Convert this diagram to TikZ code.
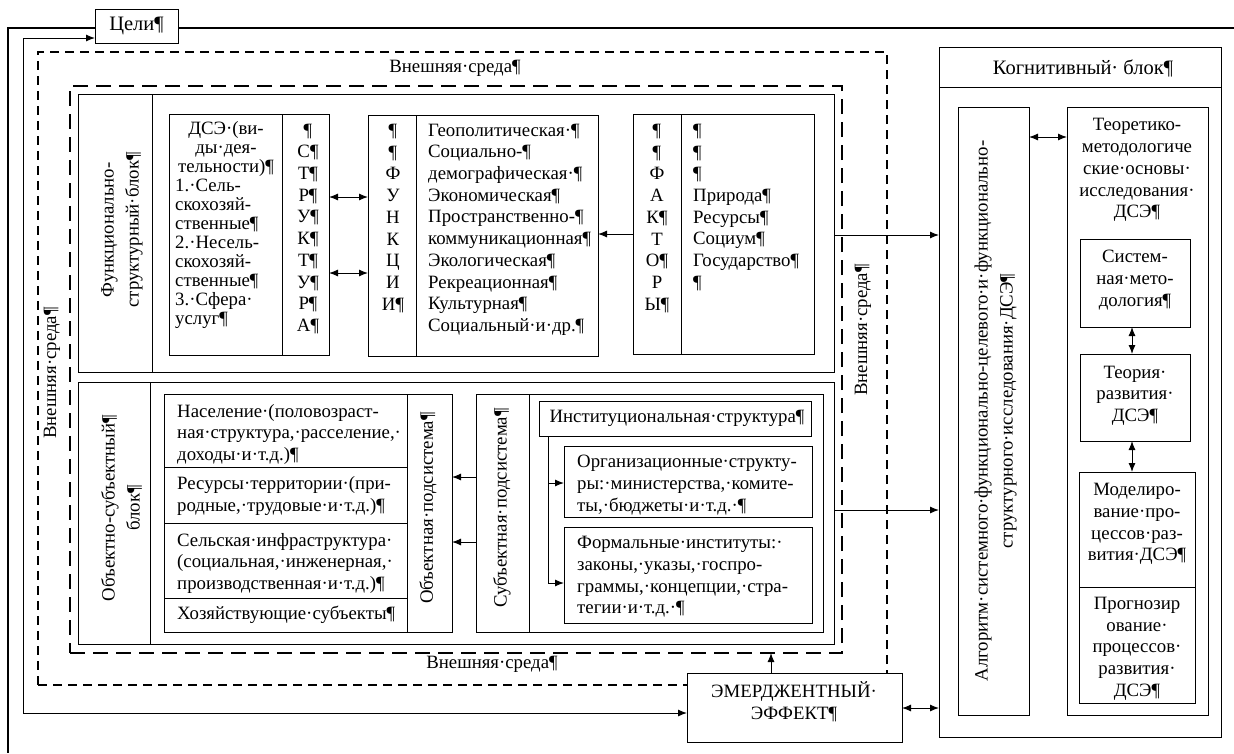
\documentclass[tikz,border=0pt]{standalone}
\usepackage{fontspec}
\setmainfont{Liberation Serif}
\usetikzlibrary{arrows.meta}
\newcommand\fsA{\rmfamily\fontsize{18.8}{21.7}\selectfont}
\newcommand\fsB{\rmfamily\fontsize{18.8}{19}\selectfont}
\newcommand\fsC{\rmfamily\fontsize{18.8}{25}\selectfont}
\newcommand\fsD{\rmfamily\fontsize{20.5}{24}\selectfont}
\newcommand\bx[6][]{\node[box,#1,minimum width={(#4-#2)*1pt},minimum height={(#5-#3)*1pt}] (#6) at (#2,#3) {};}
\begin{document}
\begin{tikzpicture}[x=1pt,y=-1pt,
  box/.style={draw,line width=1pt,inner sep=0pt,outer sep=0pt,anchor=north west},
  txt/.style={inner sep=0pt,font=\fsA},
  tl/.style={txt,align=left,anchor=west},
  tc/.style={txt,align=center},
  tr90/.style={inner sep=0pt,font=\fsC,align=center,rotate=90},
  arr/.style={line width=1pt,-{Latex[length=9pt,width=7pt]}},
  darr/.style={line width=1pt,{Latex[length=9pt,width=7pt]}-{Latex[length=9pt,width=7pt]}},
  dashO/.style={line width=2pt,dash pattern=on 9pt off 6pt},
  dashI/.style={line width=2.3pt,dash pattern=on 15pt off 8pt},
  fb/.style={line width=2.5pt}]
\useasboundingbox (0,0) rectangle (1234,753);
% environment
\bx[dashO]{38}{52}{887}{685}{envO}
\bx[dashI]{70}{86}{842}{653}{envI}
\node[tc] (envTop) at (455,68) {Внешняя·среда¶};
\node[tc] (envBot) at (492,664) {Внешняя·среда¶};
\node[tc,rotate=90] (envL) at (52,373) {Внешняя·среда¶};
\node[tc,rotate=90] (envR) at (863,330) {Внешняя·среда¶};
% goals
\node[box,font=\fsD,minimum width=83pt,minimum height=34pt] (goals) at (95,9) {Цели¶};
% functional-structural block
\bx{78}{94}{834}{372}{fsb}
\bx{78}{94}{152}{372}{fsbl}
\node[tr90] (fsbt) at (121,230) {\strut Функционально-\\структурный·блок¶\strut};
\bx{169}{114}{282}{355}{dse}
\bx{282}{114}{329}{355}{str}
\node[txt,font=\fsB,align=center] (dset1) at (226,150) {\strut ДСЭ·(ви-\\ды·дея-\\тельности)¶\strut};
\node[txt,font=\fsB,align=left,anchor=west] (dset2) at (175,254.5) {\strut 1.·Сель-\\скохозяй-\\ственные¶\\2.·Несель-\\скохозяй-\\ственные¶\\3.·Сфера·\\услуг¶\strut};
\node[tc] (strt) at (308,229.5) {\strut ¶\\С¶\\Т¶\\Р¶\\У¶\\К¶\\Т¶\\У¶\\Р¶\\А¶\strut};
\bx{368}{115}{416}{356}{fnl}
\bx{416}{115}{598}{356}{fnr}
\node[tc] (fnlt) at (393,219) {\strut ¶\\¶\\Ф\\У\\Н\\К\\Ц\\И\\И¶\strut};
\node[tl] (fnrt) at (428,229.5) {\strut Геополитическая·¶\\Социально-¶\\демографическая·¶\\Экономическая¶\\Пространственно-¶\\коммуникационная¶\\Экологическая¶\\Рекреационная¶\\Культурная¶\\Социальный·и·др.¶\strut};
\bx{633}{114}{681}{354}{fal}
\bx{681}{114}{814}{354}{far}
\node[tc] (falt) at (657,219) {\strut ¶\\¶\\Ф\\А\\К¶\\Т\\О¶\\Р\\Ы¶\strut};
\node[tl] (fart) at (693,208) {\strut ¶\\¶\\¶\\Природа¶\\Ресурсы¶\\Социум¶\\Государство¶\\¶\strut};
% object-subject block
\bx{78}{382}{834}{644}{osb}
\bx{78}{382}{150}{644}{osbl}
\node[tr90] (osbt) at (122,508) {\strut Объектно-субъектный¶\\блок¶\strut};
\bx{164}{394}{407}{467}{pop}
\bx{164}{467}{407}{523}{res}
\bx{164}{523}{407}{598}{infra}
\bx{164}{598}{407}{632}{econ}
\node[tl] (popt) at (177,434.5) {\strut Население·(половозраст-\\ная·структура,·расселение,·\\доходы·и·т.д.)¶\strut};
\node[tl] (rest) at (177,496) {\strut Ресурсы·территории·(при-\\родные,·трудовые·и·т.д.)¶\strut};
\node[tl] (infrat) at (177,563.5) {\strut Сельская·инфраструктура·\\(социальная,·инженерная,·\\производственная·и·т.д.)¶\strut};
\node[tl] (econt) at (177,615) {Хозяйствующие·субъекты¶};
\bx{407}{394}{452}{632}{obj}
\node[tc,rotate=90] (objt) at (428,508) {Объектная·подсистема¶};
\bx{476}{394}{529}{632}{subl}
\bx{529}{394}{823}{632}{subr}
\node[tc,rotate=90] (subt) at (502,508) {Субъектная·подсистема¶};
\bx{539}{401}{811}{436}{inst}
\node[tc] (instt) at (677,418) {Институциональная·структура¶};
\bx{564}{446}{812}{517}{org}
\node[tl] (orgt) at (577,485) {\strut Организационные·структу-\\ры:·министерства,·комите-\\ты,·бюджеты·и·т.д.·¶\strut};
\bx{564}{527}{812}{623}{formal}
\node[tl] (formt) at (577,577) {\strut Формальные·институты:·\\законы,·указы,·госпро-\\граммы,·концепции,·стра-\\тегии·и·т.д.·¶\strut};
% cognitive block
\bx{939}{47}{1221}{737}{cog}
\bx{939}{47}{1221}{87}{cogh}
\node[txt,font=\fsD] (cogt) at (1083,68) {Когнитивный· блок¶};
\bx{958}{107}{1029}{715}{algo}
\node[tr90] (algot) at (995,411) {\strut Алгоритм·системного·функционально-целевого·и·функционально-\\структурного·исследования·ДСЭ¶\strut};
\bx{1067}{107}{1208}{715}{theo}
\node[tc] (theot) at (1137,170) {\strut Теоретико-\\методологиче\\ские·основы·\\исследования·\\ДСЭ¶\strut};
\bx{1080}{239}{1190}{327}{sys}
\node[tc] (syst) at (1135,280) {\strut Систем-\\ная·мето-\\дология¶\strut};
\bx{1080}{354}{1190}{441}{ter}
\node[tc] (tert) at (1135,395.5) {\strut Теория·\\развития·\\ДСЭ¶\strut};
\bx{1079}{472}{1195}{587}{mod}
\node[tc] (modt) at (1137,524) {\strut Моделиро-\\вание·про-\\цессов·раз-\\вития·ДСЭ¶\strut};
\bx{1079}{587}{1195}{703}{prog}
\node[tc] (progt) at (1137,648.5) {\strut Прогнозир\\ование·\\процессов·\\развития·\\ДСЭ¶\strut};
% emergent effect
\bx[fill=white]{687}{673}{902}{742}{emerg}
\node[tc] (emergt) at (794,704) {\strut ЭМЕРДЖЕНТНЫЙ·\\ЭФФЕКТ¶\strut};
% feedback loops
\coordinate (fbR) at (1234,28);
\coordinate (fbL) at (8,28);
\coordinate (fbB) at (8,753);
\draw[fb] (fbR) -- (goals.east |- fbR);
\draw[fb] (goals.west |- fbR) -- (fbL) -- (fbB);
\coordinate (lpT) at (23,38);
\coordinate (lpB) at (23,713);
\draw[darr] (goals.west |- lpT) -- (lpT) -- (lpB) -- (emerg.west |- lpB);
% connectors
\draw[darr] (str.east |- 0,197) -- (fnl.west |- 0,197);
\draw[darr] (str.east |- 0,273) -- (fnl.west |- 0,273);
\draw[arr] (fal.west |- 0,234) -- (fnr.east |- 0,234);
\draw[arr] (fsb.east |- 0,235) -- (cog.west |- 0,235);
\coordinate (trA) at (548,483);
\coordinate (trB) at (548,583);
\draw[arr] (inst.south -| trB) -- (trB) -- (formal.west |- trB);
\draw[arr] (trA) -- (org.west |- trA);
\draw[arr] (subl.west |- 0,477) -- (obj.east |- 0,477);
\draw[arr] (subl.west |- 0,542) -- (obj.east |- 0,542);
\draw[arr] (osb.east |- 0,510) -- (cog.west |- 0,510);
\draw[arr] (emerg.north -| 771,0) -- (envI.south -| 771,0);
\draw[darr] (emerg.east |- 0,708) -- (cog.west |- 0,708);
\draw[darr] (algo.east |- 0,137) -- (theo.west |- 0,137);
\draw[darr] (sys.south -| 1132,0) -- (ter.north -| 1132,0);
\draw[darr] (ter.south -| 1132,0) -- (mod.north -| 1132,0);
\end{tikzpicture}
\end{document}
